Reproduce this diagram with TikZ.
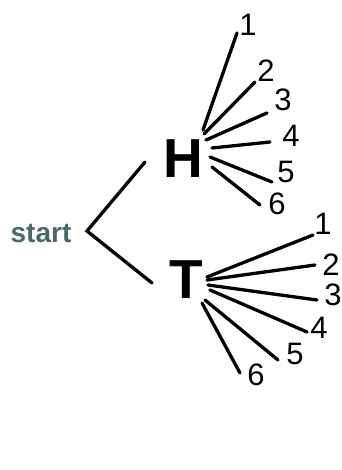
\documentclass[tikz,border=0pt]{standalone}
\usepackage{fontspec}
\setmainfont{Liberation Sans}
\definecolor{startgray}{HTML}{4A6868}
\tikzset{
  stem/.style={line width=3.3pt,line cap=round},
  num/.style={font=\fontsize{31}{31}\selectfont,inner sep=0pt},
  face/.style={font=\fontsize{55}{55}\selectfont\bfseries,inner sep=0pt},
}
\begin{document}
\begin{tikzpicture}[x=1pt,y=-1pt]
\useasboundingbox (0,0) rectangle (341,470);
% root of the tree
\node[font=\fontsize{28}{28}\selectfont\bfseries,text=startgray,inner sep=0pt] (start) at (41,234) {start};
\coordinate (root) at (87,231);
\node[face] (H) at (183,159) {H};
\node[face] (T) at (186,280) {T};
\coordinate (hin) at (145,162);
\coordinate (tin) at (152,283);
\draw[stem] (hin) -- (root) -- (tin);
% die outcomes after heads
\foreach \n/\sx/\sy/\ex/\ey/\lx/\ly in {1/203/130/237/33/248/25, 2/204/134/255/82/266/71,
    3/206/140/267/113/283/100, 4/212/148/270/142/291/136,
    5/210/157/272/182/286/172, 6/212/167/260/205/277/204} {
  \coordinate (ha\n) at (\sx,\sy);
  \coordinate (hb\n) at (\ex,\ey);
  \node[num] (h\n) at (\lx,\ly) {\n};
  \draw[stem] (ha\n) -- (hb\n);
}
% die outcomes after tails
\foreach \n/\sx/\sy/\ex/\ey/\lx/\ly in {1/207/277/313/235/323/224, 2/207/280/315/265/331/265,
    3/208/285/317/300/333/295, 4/210/290/307/332/319/328,
    5/205/300/278/360/295/354, 6/202/303/240/373/256/375} {
  \coordinate (ta\n) at (\sx,\sy);
  \coordinate (tb\n) at (\ex,\ey);
  \node[num] (t\n) at (\lx,\ly) {\n};
  \draw[stem] (ta\n) -- (tb\n);
}
\end{tikzpicture}
\end{document}
